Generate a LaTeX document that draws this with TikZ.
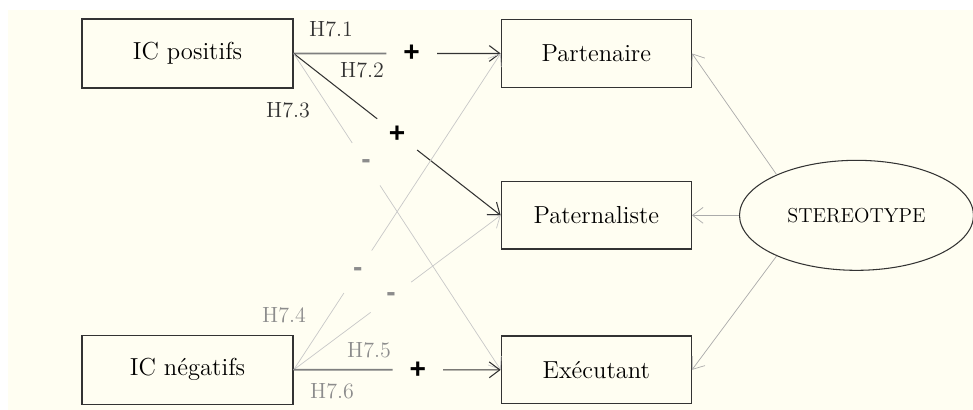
\documentclass[tikz,border=0pt]{standalone}
\usepackage{fontspec}
\usepackage{xcolor}
\usepackage{tikz}
\usetikzlibrary{shapes.geometric, arrows.meta, positioning, calc}

\newfontfamily\signfont{Liberation Sans}
\definecolor{paper}{HTML}{FFFEF2}
\definecolor{darkline}{HTML}{333333}
\definecolor{midline}{HTML}{7F7F7F}
\definecolor{lightline}{HTML}{C8C8C8}
\definecolor{stereoline}{HTML}{ABABAB}
\definecolor{greytext}{HTML}{8C8C8C}

\begin{document}
\begin{tikzpicture}[node distance=1.5cm, auto, >={Straight Barb[length=6pt,width=9pt]}]
    \tikzstyle{box} = [rectangle, draw=darkline, line width=0.75pt, minimum width=3.8cm, minimum height=1.35cm, font=\fontsize{14}{16}\selectfont]
    \tikzstyle{latent} = [ellipse, draw=darkline, line width=0.6pt, minimum width=4.68cm, minimum height=2.2cm, inner sep=0pt, font=\fontsize{11.5}{13}\selectfont]
    \tikzstyle{sign} = [circle, inner sep=0pt, minimum size=1cm, font=\fontsize{16}{18}\selectfont\signfont\bfseries]
    \tikzstyle{hyp} = [font=\fontsize{12.5}{14}\selectfont, text=darkline]
    \tikzstyle{heavy} = [midline, line width=1pt]

    \useasboundingbox (0,0) rectangle (19.46,-8.2);
    \fill [paper] (0.16,-0.2) rectangle (19.46,-8.2);

    \node [box, minimum width=4.22cm, minimum height=1.38cm] (pos) at (3.75,-1.07) {IC positifs};
    \node [box, right=4.14cm of pos] (part) {Partenaire};
    \node [box, below=1.86cm of part] (pat) {Paternaliste};
    \node [box, minimum width=4.22cm, minimum height=1.38cm, below=4.92cm of pos] (neg) {IC négatifs};
    \node [box, right=4.14cm of neg] (exe) {Exécutant};
    \node [latent, right=0.94cm of pat] (stereo) {STEREOTYPE};

    \node [sign, text=black] (s1) at ($(pos.east)!0.57!(part.west)$) {+};
    \node [sign, text=black] (s2) at ($(pos.east)!0.5!(pat.west)$) {+};
    \node [sign, text=greytext] (s3) at ($(pos.east)!0.35!(exe.west)$) {-};
    \node [sign, text=greytext] (s4) at ($(neg.east)!0.31!(part.west)$) {-};
    \node [sign, text=greytext] (s5) at ($(neg.east)!0.47!(pat.west)$) {-};
    \node [sign, text=black] (s6) at ($(neg.east)!0.6!(exe.west)$) {+};

    \node [hyp] (h1) at (6.62,-0.59) {H7.1};
    \node [hyp] (h2) at (7.24,-1.40) {H7.2};
    \node [hyp] (h3) at (5.76,-2.20) {H7.3};
    \node [hyp, text=greytext] (h4) at (5.68,-6.30) {H7.4};
    \node [hyp, text=greytext] (h5) at (7.38,-7.00) {H7.5};
    \node [hyp, text=greytext] (h6) at (6.64,-7.82) {H7.6};

    \draw [heavy] (pos.east) -- (s1);
    \draw [->, darkline, semithick] (s1) -- (part.west);
    \draw [darkline, semithick] (pos.east) -- (s2);
    \draw [->, darkline, semithick] (s2) -- (pat.west);
    \draw [lightline] (pos.east) -- (s3);
    \draw [->, lightline] (s3) -- (exe.west);
    \draw [lightline] (neg.east) -- (s4);
    \draw [->, lightline] (s4) -- (part.west);
    \draw [lightline] (neg.east) -- (s5);
    \draw [->, lightline] (s5) -- (pat.west);
    \draw [heavy] (neg.east) -- (s6);
    \draw [->, darkline, semithick] (s6) -- (exe.west);

    \draw [->, stereoline] (stereo.153) -- (part.east);
    \draw [->, stereoline] (stereo.west) -- (pat.east);
    \draw [->, stereoline] (stereo.207) -- (exe.east);
\end{tikzpicture}
\end{document}
